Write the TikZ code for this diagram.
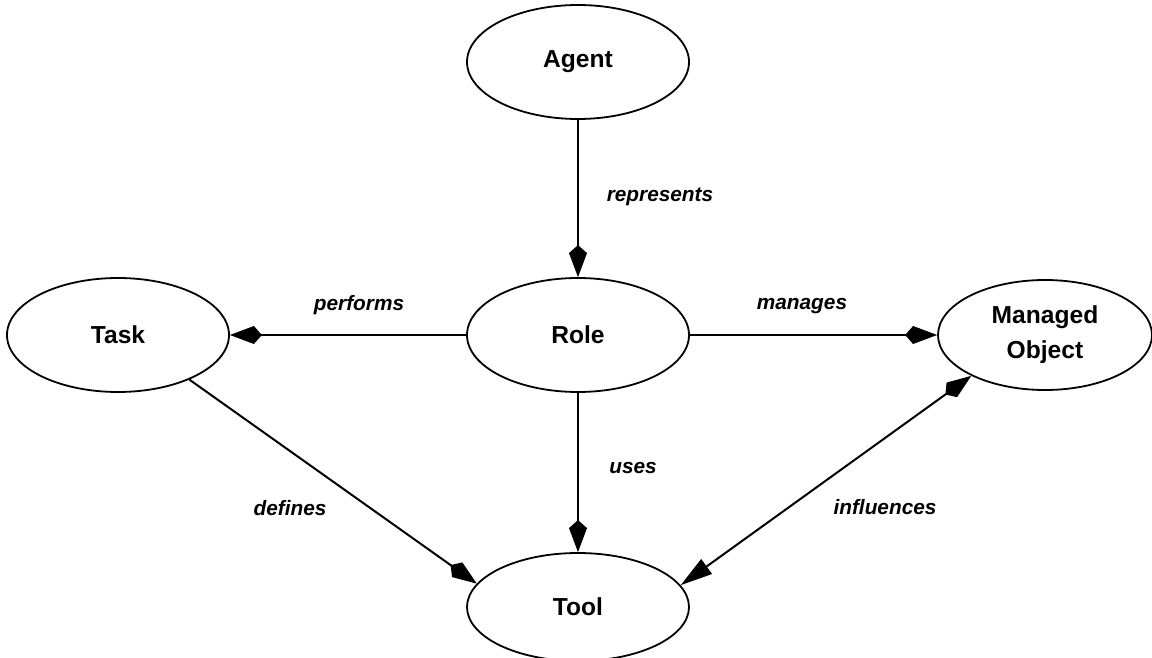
\documentclass[tikz,border=0pt]{standalone}
\usepackage{fontspec}
\setmainfont{Liberation Sans}
\usetikzlibrary{shapes.geometric,arrows.meta}
\tikzset{
  ent/.style={ellipse,draw,line width=0.9pt,minimum width=111pt,minimum height=57pt,inner sep=0pt,
    font=\fontsize{12.3}{17.5}\selectfont\bfseries,align=center},
  rel/.style={line width=1pt,-{Kite[length=16pt,width=9pt,inset=4pt]}},
  lbl/.style={font=\fontsize{10.4}{12}\selectfont\bfseries\itshape,inner sep=0pt}
}
\begin{document}
\begin{tikzpicture}[x=0.5pt,y=-0.5pt]
\useasboundingbox (0,0) rectangle (1152,658);
\node[ent] (agent) at (578,62) {Agent};
\node[ent] (role) at (578,335) {Role};
\node[ent] (task) at (118,335) {Task};
\node[ent,minimum width=107pt,minimum height=55pt] (mo) at (1045,335) {Managed\\Object};
\node[ent,minimum height=54pt] (tool) at (578,607) {Tool};

\draw[rel] (agent) -- (role);
\draw[rel] (role) -- (task);
\draw[rel] (role) -- (mo);
\draw[rel] (role) -- (tool);
\draw[rel] (task.-32) -- (tool.167);
\draw[line width=1pt,{Triangle[length=16pt,width=9pt]}-{Kite[length=16pt,width=9pt,inset=4pt]}] (tool.12.6) -- (mo.-151.3);

\node[lbl] (l1) at (660,197) {represents};
\node[lbl] (l2) at (359,305) {performs};
\node[lbl] (l3) at (802,306) {manages};
\node[lbl] (l4) at (633,468) {uses};
\node[lbl] (l5) at (290,508) {defines};
\node[lbl] (l6) at (885,507) {influences};
\end{tikzpicture}
\end{document}
